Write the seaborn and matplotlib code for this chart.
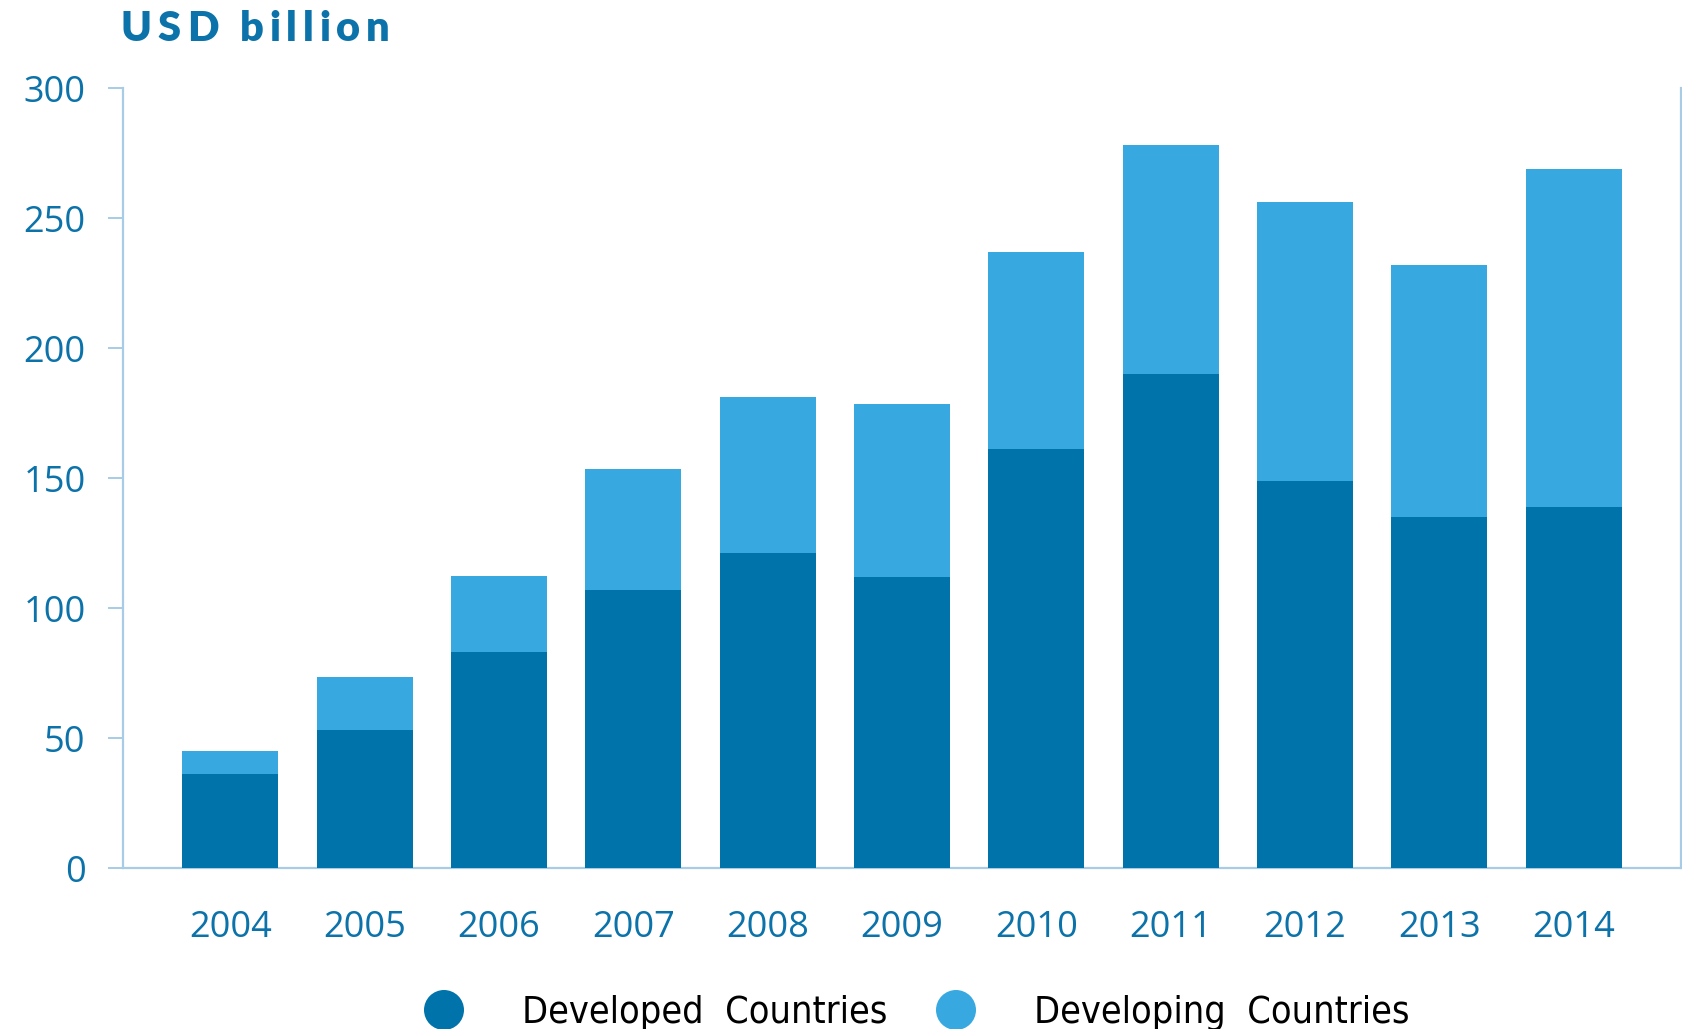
import matplotlib
matplotlib.use("Agg")
import matplotlib.pyplot as plt
from matplotlib.patches import Ellipse
from matplotlib.font_manager import FontProperties, fontManager
import seaborn as sns
import pandas as pd

# Investment by country group, USD billion
years = ["2004", "2005", "2006", "2007", "2008", "2009", "2010", "2011", "2012", "2013", "2014"]
developed = [36, 53, 83, 107, 121, 112, 161, 190, 149, 135, 139]
developing = [9, 20.5, 29.5, 46.5, 60, 66.5, 76, 88, 107, 97, 130]
y_ticks = [0, 50, 100, 150, 200, 250, 300]
legend_labels = ["Developed  Countries", "Developing  Countries"]

DARK = "#0073AA"
LIGHT = "#38A9E0"
AXIS = "#A8CCE6"
TEXT = "#0B72AA"

sns.set_theme(style="white")
plt.rcParams["font.family"] = ["Open Sans", "DejaVu Sans"]

W, H, DPI = 1683, 1029, 100
fig = plt.figure(figsize=(W / DPI, H / DPI), dpi=DPI)
renderer = fig.canvas.get_renderer()

def text_w(s, prop):
    if not s:
        return 0.0
    w, _, _ = renderer.get_text_width_height_descent(s, prop, ismath=False)
    return w

# axes frame in pixel terms
left_px, right_px, bottom_px, top_px = 123, 1681, 868, 88
ax = fig.add_axes([left_px / W, 1 - bottom_px / H,
                   (right_px - left_px) / W, (bottom_px - top_px) / H])

df = pd.DataFrame({"year": years, "developed": developed,
                   "total": [a + b for a, b in zip(developed, developing)]})

sns.barplot(data=df, x="year", y="total", color=LIGHT, width=0.715,
            saturation=1, ax=ax, zorder=2)
sns.barplot(data=df, x="year", y="developed", color=DARK, width=0.715,
            saturation=1, ax=ax, zorder=3)
for p in ax.patches:
    p.set_edgecolor("none")

ax.set_xlim(-0.8, 10.8)
ax.set_ylim(0, 300)
ax.set_yticks(y_ticks)
ax.set_yticklabels([str(v) for v in y_ticks])
ax.set_xlabel("")
ax.set_ylabel("")

for side in ["left", "right", "bottom"]:
    ax.spines[side].set_visible(True)
    ax.spines[side].set_color(AXIS)
    ax.spines[side].set_linewidth(1.6)
ax.spines["top"].set_visible(False)

ax.tick_params(axis="y", length=11, width=1.4, color=AXIS, pad=16,
               labelsize=26, left=True)
ax.tick_params(axis="x", length=0, pad=30, labelsize=26)
for lab in ax.get_yticklabels() + ax.get_xticklabels():
    lab.set_color(TEXT)

# title with widened letter spacing
title = "USD billion"
tprop = FontProperties(family=["Lato", "DejaVu Sans"], weight="heavy", size=30)
x0, x1 = 121, 390
spacing = ((x1 - x0) - text_w(title, tprop)) / (len(title) - 1)
for i, ch in enumerate(title):
    xp = x0 + text_w(title[:i], tprop) + i * spacing
    fig.text(xp / W, 1 - 41 / H, ch, fontproperties=tprop, color=TEXT,
             ha="left", va="baseline")

# legend: prefer a narrow sans face when one is available
narrow = [f.name for f in fontManager.ttflist
          if f.stretch in ("condensed", "semi-condensed", "extra-condensed")
          or "Narrow" in f.name or "Condensed" in f.name]
legend_family = [narrow[0]] if narrow else ["Roboto"]
lsize = 31
lprop = FontProperties(family=legend_family + ["DejaVu Sans"], size=lsize,
                       stretch="condensed")
max_w = 365
natural = text_w(legend_labels[0], lprop)
if natural > max_w:
    lsize = lsize * max_w / natural
    lprop.set_size(lsize)

for cx, tx, label, col in [(444, 522, legend_labels[0], DARK),
                           (956, 1034, legend_labels[1], LIGHT)]:
    fig.add_artist(Ellipse((cx / W, 1 - 1010 / H), 40 / W, 40 / H,
                           transform=fig.transFigure, color=col, lw=0))
    fig.text(tx / W, 1 - 1023 / H, label, fontproperties=lprop,
             color="black", ha="left", va="baseline")

fig.savefig("out.png", dpi=DPI)
